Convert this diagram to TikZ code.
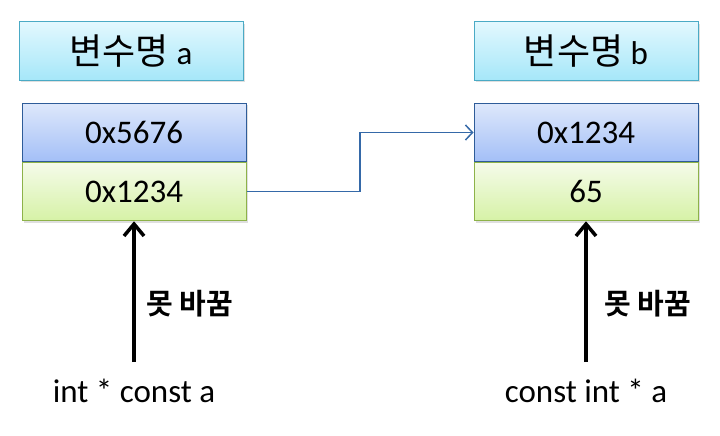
\documentclass[tikz,border=0pt]{standalone}
\usepackage{fontspec}
\setmainfont{Carlito}
\newfontfamily\kr{Noto Sans CJK KR}[BoldFont={Noto Sans CJK KR Bold}]
\usetikzlibrary{arrows.meta,shadows}
\definecolor{nameline}{HTML}{4AAAC5}
\definecolor{nametop}{HTML}{E2F8FE}
\definecolor{namebot}{HTML}{A6E7F9}
\definecolor{hiline}{HTML}{2E5C99}
\definecolor{hitop}{HTML}{DEE8FB}
\definecolor{hibot}{HTML}{A3BFF7}
\definecolor{loline}{HTML}{8DB249}
\definecolor{lotop}{HTML}{F5FBEA}
\definecolor{lobot}{HTML}{D6F2A6}
\definecolor{linkcol}{HTML}{3569A8}

\tikzstyle{cell} = [draw, line width=1pt, minimum width=224pt, minimum height=58.5pt, inner sep=0pt, font=\fontsize{33}{40}\selectfont, drop shadow={shadow xshift=1.5pt, shadow yshift=-2pt, opacity=0.25}]
\tikzstyle{namebox} = [cell, draw=nameline, top color=nametop, bottom color=namebot, minimum height=58pt]
\tikzstyle{hi} = [cell, draw=hiline, top color=hitop, bottom color=hibot]
\tikzstyle{lo} = [cell, draw=loline, top color=lotop, bottom color=lobot]
\tikzstyle{link} = [draw=linkcol, line width=1.5pt, -{Straight Barb[length=7pt, width=15pt]}]
\tikzstyle{ptr} = [line width=3.5pt, -{Straight Barb[length=12pt, width=20pt]}]

\begin{document}
\begin{tikzpicture}[x=1pt, y=-1pt]
		%\draw[help lines] (0,0) grid[step=20] (720,436);
		\useasboundingbox (0,0) rectangle (720,436);
		\foreach \nx/\mx/\fx/\n/\hv/\lv/\code in {131/134/9/a/0x5676/0x1234/int * const a, 586/586/15/b/0x1234/65/const int * a} {
			\node[namebox] (n\n) at (\nx,51) {{\kr\fontsize{36}{40}\selectfont 변수명} \n};
			\node[hi] (h\n) at (\mx,132.5) {\hv};
			\node[lo] (l\n) at (\mx,191.5) {\lv};
			\node[anchor=base, font=\fontsize{33}{40}\selectfont] (c\n) at (\mx,402) {\code};
			\coordinate (p\n) at (\mx,362);
			\draw[ptr] (p\n) -- (l\n.south);
			\node[anchor=west, font=\kr\bfseries\fontsize{29}{34}\selectfont] (f\n) at (\mx+\fx,304) {못 바꿈};
		}
		\coordinate (bend) at (360,0);
		\draw[link] (la.east) -- (la.east -| bend) |- (hb.west);
	\end{tikzpicture}
\end{document}
